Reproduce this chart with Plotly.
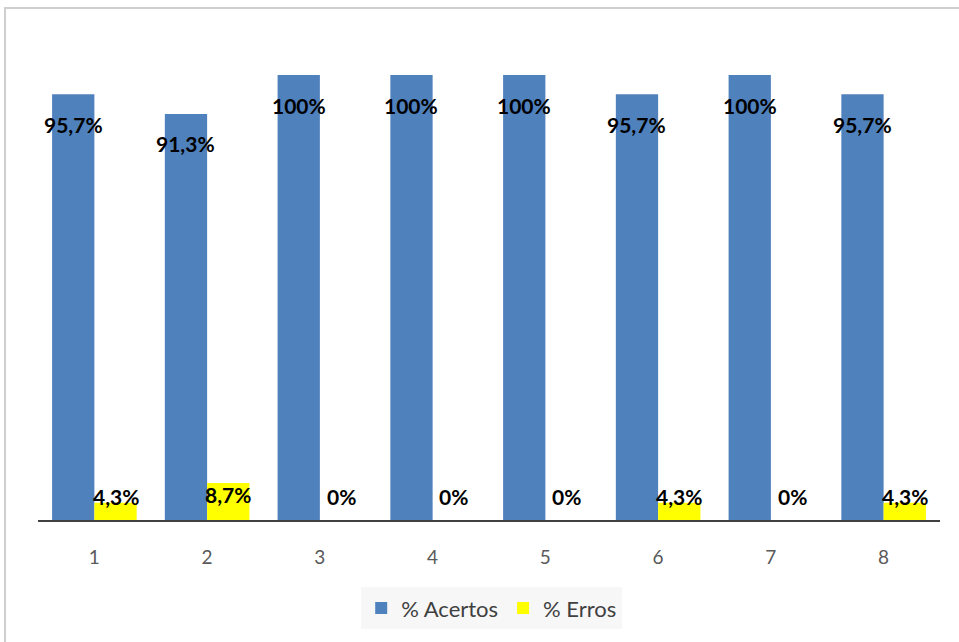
import plotly.graph_objects as go

categories = [1, 2, 3, 4, 5, 6, 7, 8]
tick_labels = ["1", "2", "3", "4", "5", "6", "7", "8"]
acertos = [95.7, 91.3, 100, 100, 100, 95.7, 100, 95.7]
erros = [4.3, 8.7, 0, 0, 0, 4.3, 0, 4.3]
acertos_labels = ["95,7%", "91,3%", "100%", "100%", "100%", "95,7%", "100%", "95,7%"]
erros_labels = ["4,3%", "8,7%", "0%", "0%", "0%", "4,3%", "0%", "4,3%"]

BLUE = "#4f81bd"
YELLOW = "#ffff00"
BARGAP = 0.25
half = (1 - BARGAP) / 4  # offset of each bar centre from category centre

fig = go.Figure()
fig.add_trace(go.Bar(x=categories, y=acertos, name="% Acertos",
                     marker=dict(color=BLUE, line=dict(width=0))))
fig.add_trace(go.Bar(x=categories, y=erros, name="% Erros",
                     marker=dict(color=YELLOW, line=dict(width=0))))

lab_font = dict(family="Lato", size=21, color="#000000", weight="bold")
for c, v, t in zip(categories, acertos, acertos_labels):
    fig.add_annotation(x=c - half, y=v, text=t, showarrow=False, xref="x", yref="y",
                       yanchor="middle", yshift=-30, font=lab_font)
for c, v, t in zip(categories, erros, erros_labels):
    fig.add_annotation(x=c + half, y=max(v * 0.72, 5.6), text=t, showarrow=False,
                       xref="x", yref="y", yanchor="middle", font=lab_font)

# outer chart frame
fig.add_shape(type="rect", xref="paper", yref="paper",
              x0=-0.0366, x1=1.04, y0=-0.32, y1=1.15,
              line=dict(color="#cfcfcf", width=2), layer="below")

fig.update_layout(
    width=959, height=642,
    margin=dict(l=38, r=19, t=75, b=120),
    plot_bgcolor="white", paper_bgcolor="white",
    barmode="group", bargap=BARGAP, bargroupgap=0,
    showlegend=True,
    legend=dict(orientation="h", x=0.503, xanchor="center", y=-0.193, yanchor="middle",
                bgcolor="#f7f7f7", font=dict(family="Lato", size=22, color="#404040"),
                itemwidth=30, traceorder="normal", borderwidth=0),
    xaxis=dict(range=[0.5, 8.5], tickmode="array", tickvals=categories, ticktext=tick_labels,
               showgrid=False, zeroline=False, showline=False, ticks="",
               ticklabelstandoff=22,
               tickfont=dict(family="Lato", size=19, color="#595959")),
    yaxis=dict(range=[0, 100], visible=False, showgrid=False, zeroline=False),
)
# baseline axis line
fig.add_shape(type="line", xref="paper", yref="y", x0=0, x1=1, y0=0, y1=0,
              line=dict(color="#404040", width=4))

fig.write_html("out.html")
